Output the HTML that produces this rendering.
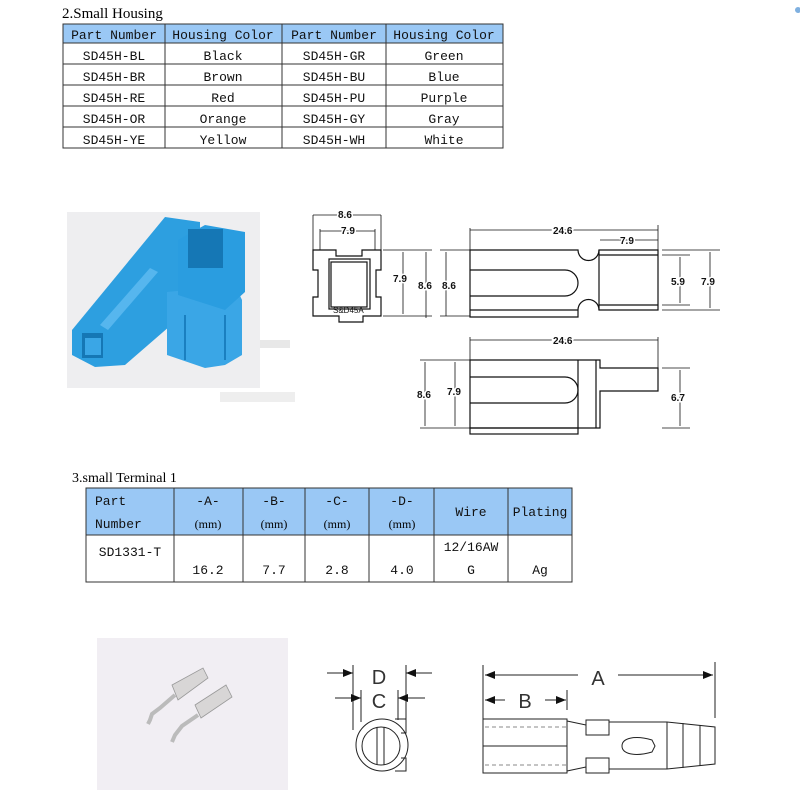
<!DOCTYPE html>
<html><head><style>
body{margin:0;background:#fff;}
svg{display:block}
.t{font-family:"Liberation Mono","DejaVu Sans Mono",monospace;font-size:13px;fill:#111}
.s{font-family:"Liberation Serif",serif;fill:#000}
.d{font-family:"Liberation Sans",sans-serif;font-weight:bold;font-size:10px;fill:#111}
</style></head><body>
<svg width="800" height="800" viewBox="0 0 800 800" xmlns="http://www.w3.org/2000/svg">
<rect width="800" height="800" fill="#fff"/>
<text x="62" y="18" class="s" font-size="15">2.Small Housing</text>
<rect x="63" y="24" width="440" height="19" fill="#9ac8f5"/>
<g stroke="#333" stroke-width="1" fill="none">
<rect x="63" y="24" width="440" height="124"/>
<line x1="63" y1="43" x2="503" y2="43"/><line x1="63" y1="64" x2="503" y2="64"/><line x1="63" y1="85" x2="503" y2="85"/><line x1="63" y1="106" x2="503" y2="106"/><line x1="63" y1="127" x2="503" y2="127"/>
<line x1="165" y1="24" x2="165" y2="148"/><line x1="282" y1="24" x2="282" y2="148"/><line x1="386" y1="24" x2="386" y2="148"/>
</g>
<g class="t" text-anchor="middle">
<text x="114" y="39">Part Number</text><text x="223" y="39">Housing Color</text><text x="334" y="39">Part Number</text><text x="444" y="39">Housing Color</text>
<text x="114" y="60">SD45H-BL</text><text x="223" y="60">Black</text><text x="334" y="60">SD45H-GR</text><text x="444" y="60">Green</text>
<text x="114" y="81">SD45H-BR</text><text x="223" y="81">Brown</text><text x="334" y="81">SD45H-BU</text><text x="444" y="81">Blue</text>
<text x="114" y="102">SD45H-RE</text><text x="223" y="102">Red</text><text x="334" y="102">SD45H-PU</text><text x="444" y="102">Purple</text>
<text x="114" y="123">SD45H-OR</text><text x="223" y="123">Orange</text><text x="334" y="123">SD45H-GY</text><text x="444" y="123">Gray</text>
<text x="114" y="144">SD45H-YE</text><text x="223" y="144">Yellow</text><text x="334" y="144">SD45H-WH</text><text x="444" y="144">White</text>
</g>
<circle cx="798" cy="10" r="3" fill="#7fb0e0"/>
<!-- photo 1 -->
<rect x="67" y="212" width="193" height="176" fill="#eeeef0"/>
<polygon points="72,330 165,217 200,222 200,300 125,365 95,367 72,355" fill="#2d9fe0"/>
<polygon points="100,325 150,268 158,272 108,330" fill="#56b6ee"/>
<polygon points="167,292 235,285 242,300 242,355 225,365 205,368 167,355" fill="#3aa6e6"/>
<polygon points="178,240 205,225 245,232 245,292 225,310 178,295" fill="#2a9de0"/>
<polygon points="188,229 223,229 223,268 188,268" fill="#1577b5"/>
<rect x="82" y="333" width="21" height="25" fill="#1577b5"/>
<rect x="85" y="338" width="16" height="17" fill="#3aa6e6"/>
<line x1="185" y1="315" x2="185" y2="360" stroke="#1a7fc0" stroke-width="2"/>
<line x1="225" y1="315" x2="225" y2="360" stroke="#1a7fc0" stroke-width="2"/>
<rect x="260" y="340" width="30" height="8" fill="#e8e8e8"/>
<rect x="220" y="392" width="75" height="10" fill="#eee"/>
<g stroke="#111" stroke-width="1.2" fill="none">
<path d="M313,250 H336 V256 H362 V250 H381 V270 H376 V297 H381 V316 H363 V322 H339 V316 H313 V297 H318 V270 H313 Z"/>
<rect x="329" y="259" width="41" height="50"/>
<rect x="331" y="262" width="36" height="45"/>
<line x1="313" y1="215" x2="313" y2="270" stroke-width="0.8"/><line x1="381" y1="215" x2="381" y2="250" stroke-width="0.8"/>
<line x1="320" y1="229" x2="320" y2="250" stroke-width="0.8"/><line x1="375" y1="229" x2="375" y2="250" stroke-width="0.8"/>
<line x1="313" y1="215" x2="381" y2="215" stroke-width="0.8"/><line x1="320" y1="231" x2="375" y2="231" stroke-width="0.8"/>
<line x1="383" y1="250" x2="432" y2="250" stroke-width="0.8"/><line x1="383" y1="316" x2="432" y2="316" stroke-width="0.8"/>
<line x1="403" y1="252" x2="403" y2="314" stroke-width="0.8"/><line x1="426" y1="252" x2="426" y2="318" stroke-width="0.8"/>
<line x1="446" y1="252" x2="446" y2="316" stroke-width="0.8"/>
<line x1="440" y1="250" x2="470" y2="250" stroke-width="0.8"/><line x1="440" y1="316" x2="470" y2="316" stroke-width="0.8"/>
<path d="M470,250 H578 A9,9 0 0 0 599,250 H658 V310 H599 A9,9 0 0 0 578,310 V317 H470 Z"/>
<line x1="470" y1="310" x2="578" y2="310"/>
<line x1="599" y1="250" x2="599" y2="310"/>
<line x1="599" y1="255" x2="658" y2="255"/><line x1="599" y1="305" x2="658" y2="305"/>
<path d="M470,270 H565 A13,13 0 0 1 565,296 H470"/>
<line x1="470" y1="228" x2="470" y2="250" stroke-width="0.8"/><line x1="658" y1="225" x2="658" y2="250" stroke-width="0.8"/>
<line x1="470" y1="230" x2="658" y2="230" stroke-width="0.8"/><line x1="600" y1="240" x2="658" y2="240" stroke-width="0.8"/>
<line x1="662" y1="255" x2="690" y2="255" stroke-width="0.8"/><line x1="662" y1="305" x2="690" y2="305" stroke-width="0.8"/>
<line x1="680" y1="257" x2="680" y2="303" stroke-width="0.8"/>
<line x1="662" y1="250" x2="720" y2="250" stroke-width="0.8"/><line x1="662" y1="310" x2="720" y2="310" stroke-width="0.8"/>
<line x1="710" y1="252" x2="710" y2="308" stroke-width="0.8"/>
<path d="M470,360 H600 V368 H658 V391 H600 V428 H470 Z"/>
<rect x="470" y="428" width="108" height="6"/>
<line x1="578" y1="360" x2="578" y2="428"/><line x1="596" y1="360" x2="596" y2="428"/>
<path d="M470,377 H565 A13,13 0 0 1 565,403 H470"/>
<line x1="470" y1="337" x2="470" y2="360" stroke-width="0.8"/><line x1="658" y1="337" x2="658" y2="368" stroke-width="0.8"/>
<line x1="470" y1="340" x2="658" y2="340" stroke-width="0.8"/>
<line x1="662" y1="368" x2="690" y2="368" stroke-width="0.8"/><line x1="662" y1="428" x2="690" y2="428" stroke-width="0.8"/>
<line x1="680" y1="370" x2="680" y2="426" stroke-width="0.8"/>
<line x1="420" y1="360" x2="470" y2="360" stroke-width="0.8"/><line x1="420" y1="428" x2="470" y2="428" stroke-width="0.8"/>
<line x1="425" y1="362" x2="425" y2="426" stroke-width="0.8"/><line x1="455" y1="362" x2="455" y2="426" stroke-width="0.8"/>
</g>
<g class="d">
<text x="338" y="218" stroke="#fff" stroke-width="3" paint-order="stroke">8.6</text>
<text x="341" y="234" stroke="#fff" stroke-width="3" paint-order="stroke">7.9</text>
<text x="333" y="313" font-size="8" font-weight="normal">S&amp;D45A</text>
<text x="393" y="282" stroke="#fff" stroke-width="3" paint-order="stroke">7.9</text>
<text x="418" y="289" stroke="#fff" stroke-width="3" paint-order="stroke">8.6</text>
<text x="442" y="289" stroke="#fff" stroke-width="3" paint-order="stroke">8.6</text>
<text x="553" y="234" stroke="#fff" stroke-width="3" paint-order="stroke">24.6</text>
<text x="620" y="244" stroke="#fff" stroke-width="3" paint-order="stroke">7.9</text>
<text x="671" y="285" stroke="#fff" stroke-width="3" paint-order="stroke">5.9</text>
<text x="701" y="285" stroke="#fff" stroke-width="3" paint-order="stroke">7.9</text>
<text x="553" y="344" stroke="#fff" stroke-width="3" paint-order="stroke">24.6</text>
<text x="417" y="398" stroke="#fff" stroke-width="3" paint-order="stroke">8.6</text>
<text x="447" y="395" stroke="#fff" stroke-width="3" paint-order="stroke">7.9</text>
<text x="671" y="401" stroke="#fff" stroke-width="3" paint-order="stroke">6.7</text>
</g>
<text x="72" y="482" class="s" font-size="14">3.small Terminal 1</text>
<rect x="86" y="488" width="486" height="47" fill="#9ac8f5"/>
<g stroke="#333" stroke-width="1" fill="none">
<rect x="86" y="488" width="486" height="94"/>
<line x1="86" y1="535" x2="572" y2="535"/>
<line x1="174" y1="488" x2="174" y2="582"/><line x1="243" y1="488" x2="243" y2="582"/><line x1="305" y1="488" x2="305" y2="582"/><line x1="369" y1="488" x2="369" y2="582"/><line x1="434" y1="488" x2="434" y2="582"/><line x1="508" y1="488" x2="508" y2="582"/>
</g>
<g class="t">
<text x="95" y="505">Part</text><text x="95" y="528">Number</text>
<g text-anchor="middle">
<text x="208" y="505">-A-</text><text x="208" y="528" class="s" font-size="12">(mm)</text>
<text x="274" y="505">-B-</text><text x="274" y="528" class="s" font-size="12">(mm)</text>
<text x="337" y="505">-C-</text><text x="337" y="528" class="s" font-size="12">(mm)</text>
<text x="402" y="505">-D-</text><text x="402" y="528" class="s" font-size="12">(mm)</text>
<text x="471" y="516">Wire</text><text x="540" y="516">Plating</text>
<text x="130" y="556">SD1331-T</text>
<text x="208" y="574">16.2</text><text x="274" y="574">7.7</text><text x="337" y="574">2.8</text><text x="402" y="574">4.0</text>
<text x="471" y="551">12/16AW</text><text x="471" y="574">G</text><text x="540" y="574">Ag</text>
</g></g>
<rect x="97" y="638" width="191" height="152" fill="#f1eef3"/>
<g fill="#d8d6d6" stroke="#999" stroke-width="0.8">
<polygon points="172,685 203,668 208,678 178,700"/>
<path d="M175,695 L160,708 L152,714 L150,720 L148,724" fill="none" stroke="#bbb" stroke-width="4"/>
<polygon points="195,705 226,685 232,697 201,718"/>
<path d="M198,715 L182,726 L175,735 L172,742" fill="none" stroke="#bbb" stroke-width="4"/>
</g>
<g stroke="#222" stroke-width="1" fill="none">
<line x1="353" y1="665" x2="353" y2="730"/><line x1="406" y1="665" x2="406" y2="723"/>
<line x1="361" y1="690" x2="361" y2="722"/><line x1="398" y1="690" x2="398" y2="720"/>
<line x1="327" y1="673" x2="353" y2="673"/><line x1="406" y1="673" x2="432" y2="673"/>
<line x1="335" y1="698" x2="361" y2="698"/><line x1="398" y1="698" x2="425" y2="698"/>
<circle cx="382" cy="745" r="26"/><circle cx="381" cy="746" r="19"/>
<line x1="377" y1="727" x2="377" y2="765"/><line x1="384" y1="727" x2="384" y2="765"/>
<path d="M395,719 H406 V733 H401 M401,758 H406 V771 H395"/>
<line x1="483" y1="665" x2="483" y2="722"/><line x1="715" y1="662" x2="715" y2="718"/>
<line x1="485" y1="675" x2="578" y2="675"/><line x1="618" y1="675" x2="713" y2="675"/>
<line x1="485" y1="700" x2="505" y2="700"/><line x1="545" y1="700" x2="566" y2="700"/>
<line x1="567" y1="690" x2="567" y2="710"/>
<rect x="483" y="719" width="84" height="54"/>
<line x1="483" y1="746" x2="567" y2="746"/>
<line x1="485" y1="727" x2="567" y2="727" stroke-dasharray="4,3" stroke="#888"/>
<line x1="485" y1="765" x2="567" y2="765" stroke-dasharray="4,3" stroke="#888"/>
<rect x="586" y="720" width="23" height="15"/><rect x="586" y="758" width="23" height="15"/>
<path d="M567,721 L586,725 M567,771 L586,767"/>
<path d="M609,722 H667 L715,727 V764 L667,769 H609"/>
<line x1="667" y1="722" x2="667" y2="769"/><line x1="683" y1="723" x2="683" y2="768"/><line x1="700" y1="725" x2="700" y2="766"/>
<path d="M622,746 C622,738 635,735 652,740 L655,746 L652,752 C635,757 622,754 622,746 Z"/>
</g>
<g fill="#111">
<polygon points="353,673 343,669 343,677"/><polygon points="406,673 416,669 416,677"/>
<polygon points="361,698 351,694 351,702"/><polygon points="398,698 408,694 408,702"/>
<polygon points="485,675 495,671 495,679"/><polygon points="713,675 703,671 703,679"/>
<polygon points="485,700 495,696 495,704"/><polygon points="566,700 556,696 556,704"/>
</g>
<g font-family="Liberation Sans,sans-serif" font-size="20" fill="#333" text-anchor="middle">
<text x="379" y="684">D</text><text x="379" y="708">C</text>
<text x="598" y="685">A</text><text x="525" y="708">B</text>
</g>
</svg>
</body></html>
